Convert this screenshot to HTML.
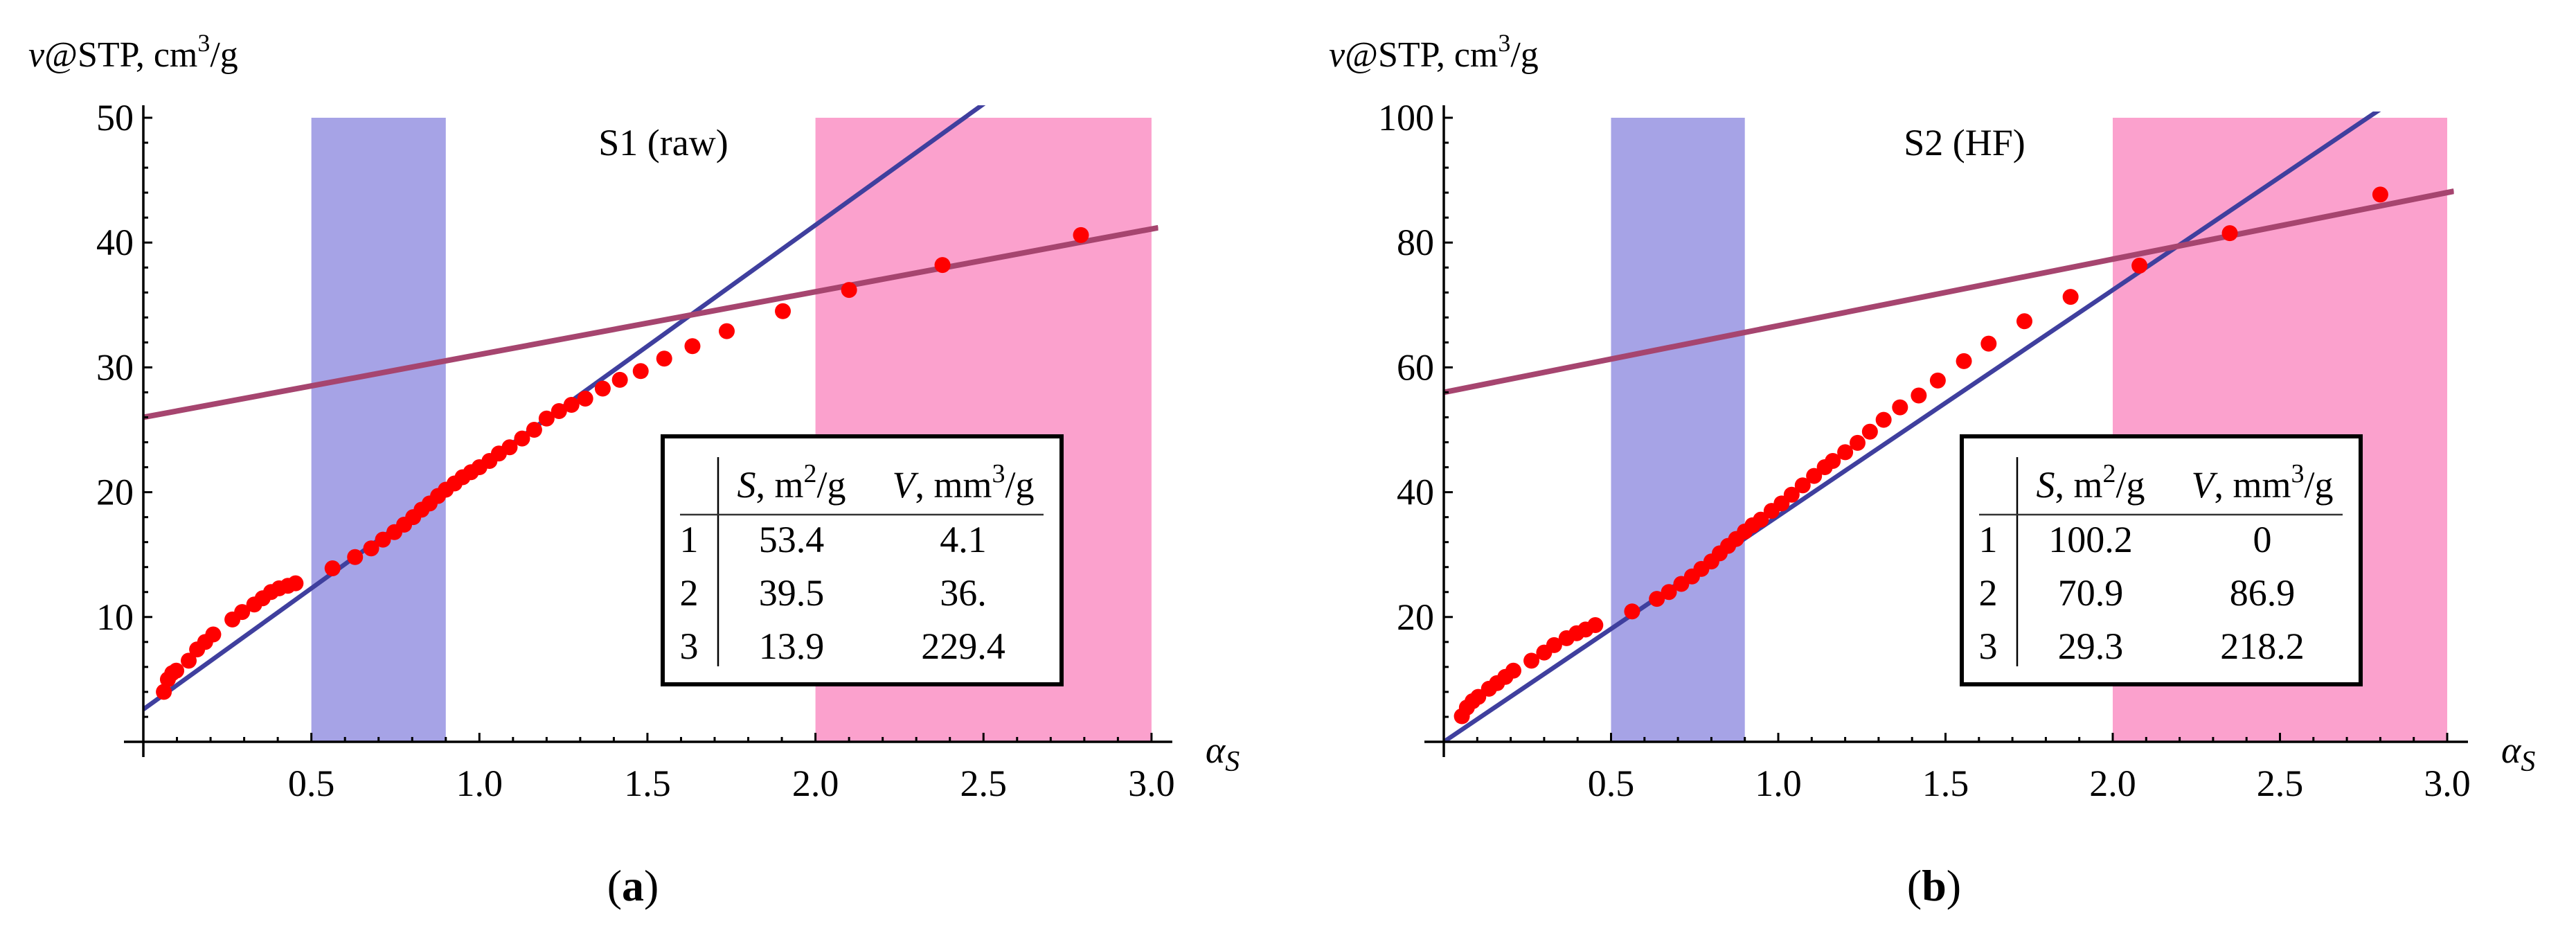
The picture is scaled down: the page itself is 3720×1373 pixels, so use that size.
<!DOCTYPE html>
<html><head><meta charset="utf-8"><style>
html,body{margin:0;padding:0;background:#fff;}
svg{display:block;}
svg text{font-family:"Liberation Serif","Times New Roman",serif;}
</style></head><body>
<svg id="s" width="3720" height="1373" viewBox="0 0 3720 1373" xmlns="http://www.w3.org/2000/svg" font-family="Liberation Serif, serif"></svg>
<script>
const xTicks=[0.5,1.0,1.5,2.0,2.5,3.0];
const xTickLabels=["0.5","1.0","1.5","2.0","2.5","3.0"];
const aYTicks=[10,20,30,40,50];
const bYTicks=[20,40,60,80,100];
const aX=[0.061,0.073,0.086,0.098,0.135,0.16,0.184,0.208,0.265,0.294,0.33,0.355,0.38,0.404,0.43,0.453,0.563,0.63,0.678,0.713,0.747,0.776,0.803,0.828,0.852,0.877,0.9,0.926,0.95,0.975,1.0,1.03,1.058,1.09,1.127,1.163,1.2,1.237,1.274,1.315,1.367,1.418,1.48,1.55,1.634,1.736,1.903,2.1,2.378,2.79];
const aY=[4.0,5.0,5.5,5.7,6.5,7.4,8.0,8.6,9.8,10.4,11.0,11.5,12.0,12.3,12.5,12.7,13.9,14.8,15.5,16.2,16.8,17.4,18.0,18.6,19.1,19.7,20.2,20.7,21.2,21.6,22.0,22.5,23.1,23.6,24.3,25.0,25.9,26.5,27.0,27.5,28.3,29.0,29.7,30.7,31.7,32.9,34.5,36.2,38.2,40.6];
const bX=[0.054,0.069,0.086,0.103,0.135,0.159,0.184,0.208,0.262,0.3,0.33,0.367,0.397,0.424,0.453,0.563,0.637,0.673,0.71,0.742,0.77,0.8,0.825,0.85,0.874,0.9,0.923,0.948,0.98,1.01,1.04,1.073,1.107,1.139,1.163,1.2,1.237,1.274,1.315,1.364,1.42,1.477,1.555,1.629,1.736,1.874,2.08,2.35,2.8];
const bY=[4.1,5.5,6.5,7.2,8.5,9.4,10.4,11.4,13.0,14.3,15.5,16.6,17.4,18.0,18.7,20.9,22.9,24.0,25.3,26.5,27.7,28.9,30.2,31.4,32.5,33.7,34.7,35.6,37.0,38.2,39.6,41.1,42.6,44.0,45.0,46.4,47.9,49.7,51.6,53.6,55.5,57.9,61.0,63.8,67.4,71.3,76.3,81.5,87.7];
const aLine1=[2.6,19.4]; // intercept, slope
const aLine2=[26.0,5.03];
const bLine1=[0.0,36.2];
const bLine2=[56.0,10.67];
const aTable=[["1","53.4","4.1"],["2","39.5","36."],["3","13.9","229.4"]];
const bTable=[["1","100.2","0"],["2","70.9","86.9"],["3","29.3","218.2"]];

const NS="http://www.w3.org/2000/svg";
const svg=document.getElementById('s');
const FF='Liberation Serif, serif';
function mk(tag,attrs,parent,txt){const e=document.createElementNS(NS,tag);for(const k in attrs)e.setAttribute(k,attrs[k]);if(tag==='text')e.setAttribute('font-family',FF);if(txt!==undefined)e.textContent=txt;(parent||svg).appendChild(e);return e;}

function panel(o){
  const g=mk('g',{});
  
  
  const X=v=>o.x0+v*o.xs, Y=v=>o.y0-v*o.ys;
  const top=Y(o.ymax);
  let r=mk('rect',{x:X(0.5),y:top,width:X(0.9)-X(0.5),height:o.y0-top,fill:'#a6a3e6'},g);
  
  
  r=mk('rect',{x:X(2.0),y:top,width:X(3.0)-X(2.0),height:o.y0-top,fill:'#fba1cd'},g);
  
  
  const cid='clip'+o.id;
  const cp=mk('clipPath',{id:cid},g);
  mk('rect',{x:o.x0,y:o.y0-(o.ymax+1)*o.ys,width:X(3.02)-o.x0,height:(o.ymax+1)*o.ys},cp);
  const lg=mk('g',{'clip-path':'url(#'+cid+')'},g);
  let l=mk('line',{x1:X(0),y1:Y(o.l1[0]),x2:X(3.1),y2:Y(o.l1[0]+o.l1[1]*3.1),stroke:'#3f3f9e','stroke-width':6.5},lg);
  
  
  l=mk('line',{x1:X(0),y1:Y(o.l2[0]),x2:X(3.02),y2:Y(o.l2[0]+o.l2[1]*3.02),stroke:'#a6456f','stroke-width':8},lg);
  
  
  for(let i=0;i<o.px.length;i++){
    const c=mk('circle',{cx:X(o.px[i]),cy:Y(o.py[i]),r:11.5,fill:'#ff0000'},g);
    
    
  }
  const ax=mk('line',{x1:o.x0-28,y1:o.y0,x2:X(3.0)+30,y2:o.y0,stroke:'#000','stroke-width':3.5},g);
  
  
  const ay=mk('line',{x1:o.x0,y1:top-18,x2:o.x0,y2:o.y0+22,stroke:'#000','stroke-width':3.5},g);
  
  
  for(let k=1;k<=30;k++){const v=k/10;const maj=k%5===0;
    mk('line',{x1:X(v),y1:o.y0,x2:X(v),y2:o.y0-(maj?13:7),stroke:'#000','stroke-width':3},g);}
  xTicks.forEach((v,i)=>{const t=mk('text',{x:X(v),y:o.y0+78,'font-size':54,'text-anchor':'middle'},g,xTickLabels[i]);
    
    });
  for(let v=o.ymin;v<=o.ymax;v+=o.minor){const maj=Math.abs(v/o.major-Math.round(v/o.major))<1e-6;
    mk('line',{x1:o.x0,y1:Y(v),x2:o.x0+(maj?13:7),y2:Y(v),stroke:'#000','stroke-width':3},g);}
  o.yt.forEach(v=>{const t=mk('text',{x:o.x0-14,y:Y(v)+18,'font-size':54,'text-anchor':'end'},g,String(v));
    
    });
  let t=mk('text',{x:o.x0-166+o.ytdx,y:96,'font-size':52},g);
  
  
  mk('tspan',{'font-style':'italic'},t,'v');
  mk('tspan',{},t,'@STP, cm');
  mk('tspan',{'font-size':36,dy:-22},t,'3');
  mk('tspan',{dy:22},t,'/g');
  t=mk('text',{x:X(3.0)+78,y:o.y0+30,'font-size':54,'font-style':'italic'},g);
  
  
  mk('tspan',{},t,'α');
  mk('tspan',{'font-size':42,dy:12},t,'S');
  t=mk('text',{x:o.titleX,y:224,'font-size':54,'text-anchor':'middle'},g,o.title);
  
  
  const tg=mk('g',{},g);
  
  
  const tx=o.tx;
  mk('rect',{x:tx,y:630,width:576,height:358,fill:'#fff',stroke:'#000','stroke-width':6},tg);
  mk('line',{x1:tx+80,y1:660,x2:tx+80,y2:962,stroke:'#000','stroke-width':2.5},tg);
  mk('line',{x1:tx+25,y1:743,x2:tx+550,y2:743,stroke:'#333','stroke-width':2.5},tg);
  let h=mk('text',{x:tx+186,y:718,'font-size':54,'text-anchor':'middle'},tg);
  mk('tspan',{'font-style':'italic'},h,'S');mk('tspan',{},h,', m');mk('tspan',{'font-size':38,dy:-22},h,'2');mk('tspan',{dy:22},h,'/g');
  h=mk('text',{x:tx+434,y:718,'font-size':54,'text-anchor':'middle'},tg);
  mk('tspan',{'font-style':'italic'},h,'V');mk('tspan',{},h,', mm');mk('tspan',{'font-size':38,dy:-22},h,'3');mk('tspan',{dy:22},h,'/g');
  o.table.forEach((row,i)=>{const yy=797+i*77;
    mk('text',{x:tx+38,y:yy,'font-size':54,'text-anchor':'middle'},tg,row[0]);
    mk('text',{x:tx+186,y:yy,'font-size':54,'text-anchor':'middle'},tg,row[1]);
    mk('text',{x:tx+434,y:yy,'font-size':54,'text-anchor':'middle'},tg,row[2]);});
  t=mk('text',{x:o.capX,y:1300,'font-size':64,'text-anchor':'middle'},g);
  
  
  mk('tspan',{},t,'(');mk('tspan',{'font-weight':'bold'},t,o.cap);mk('tspan',{},t,')');
}
panel({id:'a',x0:207,y0:1071,xs:485.3,ys:18.02,ymin:0,ymax:50,minor:2,major:10,yt:aYTicks,px:aX,py:aY,l1:aLine1,l2:aLine2,title:'S1 (raw)',titleX:958,tx:957,table:aTable,cap:'a',capX:914,ytdx:0});
panel({id:'b',x0:2085,y0:1071,xs:483,ys:9.01,ymin:0,ymax:100,minor:4,major:20,yt:bYTicks,px:bX,py:bY,l1:bLine1,l2:bLine2,title:'S2 (HF)',titleX:2837,tx:2833,table:bTable,cap:'b',capX:2793,ytdx:0});
</script>
</body></html>
